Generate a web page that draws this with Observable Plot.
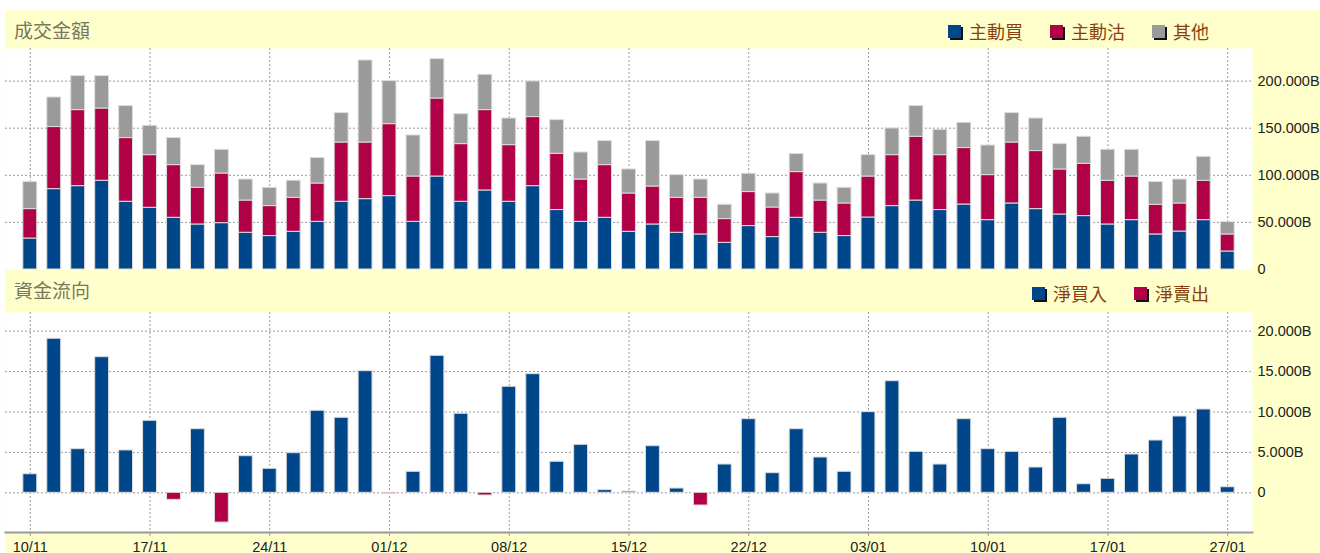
<!DOCTYPE html>
<html>
<head>
<meta charset="utf-8">
<script src="https://cdn.jsdelivr.net/npm/d3@7"></script>
<script src="https://cdn.jsdelivr.net/npm/@observablehq/plot@0.6"></script>
<style>
  body { margin: 0; background: #fff; width: 1320px; height: 553px; position: relative; overflow: hidden; }
  #bg { position: absolute; left: 5px; top: 10px; right: 0; bottom: 0; background: #FFFFCC; }
  .title { position: absolute; left: 14px; font: 19px "Noto Sans CJK TC"; color: #77775c; line-height: 20px; }
  .legend { position: absolute; right: 111px; display: flex; gap: 27px; font: 18px "Noto Sans CJK TC"; color: #8B3F10; line-height: 20px; align-items: center; }
  .legend .item { display: flex; align-items: center; }
  .legend .sw { display: inline-block; width: 13px; height: 13px; box-shadow: 2px 2px 0 #111; margin-right: 8px; }
  .chart { position: absolute; left: 0; }
</style>
</head>
<body>
<div id="bg"></div>
<div class="title" style="top:20px">成交金額</div>
<div class="legend" id="leg1" style="top:21px"></div>
<div class="title" style="top:280px">資金流向</div>
<div class="legend" id="leg2" style="top:283px"></div>
<div class="chart" id="c1" style="top:40px"></div>
<div class="chart" id="c2" style="top:300px"></div>
<script>
// ---- data ----
const tickLabels = ["10/11","17/11","24/11","01/12","08/12","15/12","22/12","03/01","10/01","17/01","27/01"];
const seriesNames = ["主動買", "主動沽", "其他"];
const flowNames = ["淨買入", "淨賣出"];
const buy = [32.9,85.3,88.5,94.2,71.9,65.5,54.9,47.8,49.2,39.0,35.5,40.0,50.6,71.9,74.7,77.9,50.6,98.7,71.9,83.9,71.9,88.5,63.1,50.6,54.9,40.0,47.8,39.0,37.2,28.3,46.1,34.4,54.9,39.0,35.5,55.2,67.3,73.2,63.1,69.0,52.4,70.1,64.1,58.4,56.7,47.8,52.4,37.2,40.3,52.4,19.1];
const sell = [31.2,65.9,80.7,76.7,67.6,55.9,55.9,38.9,52.7,34.2,31.8,36.1,40.7,62.9,60.1,76.4,48.1,82.8,61.2,85.3,60.1,73.3,59.7,44.9,55.9,40.7,40.3,37.1,38.9,25.2,36.1,31.4,48.5,34.2,34.6,43.5,54.1,67.7,58.3,59.9,47.8,64.7,61.6,47.8,55.5,46.4,46.3,31.5,29.8,41.8,18.1];
const other = [28.7,31.4,36.1,34.4,34.0,31.1,28.7,24.1,25.2,22.3,19.4,18.1,27.0,31.2,87.1,45.7,43.6,41.8,31.8,37.5,28.3,37.8,35.8,28.7,25.5,25.5,48.2,24.1,19.4,15.2,19.4,14.9,19.1,18.1,16.6,22.7,28.3,32.6,26.9,26.8,31.4,31.2,34.6,26.9,28.7,32.9,28.4,24.1,25.4,25.4,13.1];
const netFlow = [2.30,19.06,5.40,16.78,5.24,8.91,-0.87,7.87,-3.68,4.53,2.97,4.90,10.15,9.28,15.05,-0.15,2.60,16.95,9.78,-0.33,13.12,14.68,3.84,5.94,0.33,0.16,5.77,0.53,-1.57,3.50,9.11,2.43,7.87,4.37,2.60,9.98,13.81,5.07,3.50,9.11,5.40,5.07,3.13,9.28,1.06,1.73,4.74,6.47,9.44,10.31,0.69];
const yTicksTop = [0, 50, 100, 150, 200];
const yTicksBottom = [0, 5, 10, 15, 20];

// ---- styling ----
const colors = ["#00468B", "#B00046", "#9A9A9A"];
const days = buy.map((_, i) => i);
const tickDays = days.filter(i => i % 5 === 0);
const labelOf = new Map(tickDays.map((d, k) => [d, tickLabels[k]]));
const fmt = v => v === 0 ? "0" : v.toFixed(3) + "B";
const gridStyle = {stroke: "#9a9a9a", strokeOpacity: 1, strokeDasharray: "2,2", strokeWidth: 1};
const xScale = {type: "band", domain: days, paddingInner: 0.42, paddingOuter: 0.745, align: 0.5, axis: null, label: null};
const baseStyle = {background: "transparent", fontFamily: "Liberation Sans", fontSize: "14.5px", color: "#222", overflow: "visible"};

const stacked = [
  ...days.map(i => ({day: i, series: seriesNames[0], value: buy[i]})),
  ...days.map(i => ({day: i, series: seriesNames[1], value: sell[i]})),
  ...days.map(i => ({day: i, series: seriesNames[2], value: other[i]}))
];
const flow = days.map(i => ({day: i, value: netFlow[i], kind: netFlow[i] >= 0 ? flowNames[0] : flowNames[1]}));

const chartTop = Plot.plot({
  width: 1320, height: 245,
  marginTop: 8, marginBottom: 16, marginLeft: 5, marginRight: 68,
  style: baseStyle,
  x: xScale,
  y: {domain: [0, 234.6], axis: null, label: null},
  color: {domain: seriesNames, range: colors},
  marks: [
    Plot.frame({fill: "white", stroke: "none"}),
    Plot.gridY(yTicksTop.slice(1), gridStyle),
    Plot.gridX(tickDays, gridStyle),
    Plot.barY(stacked, {x: "day", y: "value", fill: "series", stroke: "#dcdcdc", strokeWidth: 1}),
    Plot.axisY(yTicksTop, {anchor: "right", label: null, tickSize: 0, tickPadding: 5, tickFormat: fmt, fill: "#222"})
  ]
});
document.getElementById("c1").append(chartTop);

const chartBottom = Plot.plot({
  width: 1320, height: 253,
  marginTop: 12, marginBottom: 21, marginLeft: 5, marginRight: 68,
  style: baseStyle,
  x: xScale,
  y: {domain: [-4.91, 22.31], axis: null, label: null},
  color: {domain: flowNames, range: colors.slice(0, 2)},
  marks: [
    Plot.frame({fill: "white", stroke: "none"}),
    Plot.gridY(yTicksBottom, gridStyle),
    Plot.gridX(tickDays, gridStyle),
    Plot.barY(flow, {x: "day", y: "value", fill: "kind", stroke: "#dcdcdc", strokeWidth: 1}),
    Plot.frame({anchor: "bottom", stroke: "#999", strokeWidth: 2}),
    Plot.axisY(yTicksBottom, {anchor: "right", label: null, tickSize: 0, tickPadding: 5, tickFormat: fmt, fill: "#222"}),
    Plot.axisX(tickDays, {anchor: "bottom", label: null, tickSize: 4, tickPadding: 5, stroke: "#999", fill: "#222", tickFormat: d => labelOf.get(d)})
  ]
});
document.getElementById("c2").append(chartBottom);

// ---- legends ----
function legend(id, names, cols) {
  const el = document.getElementById(id);
  names.forEach((n, k) => {
    const item = document.createElement("div");
    item.className = "item";
    const sw = document.createElement("span");
    sw.className = "sw";
    sw.style.background = cols[k];
    const t = document.createElement("span");
    t.textContent = n;
    item.append(sw, t);
    el.append(item);
  });
}
legend("leg1", seriesNames, colors);
legend("leg2", flowNames, colors);
</script>
</body>
</html>
